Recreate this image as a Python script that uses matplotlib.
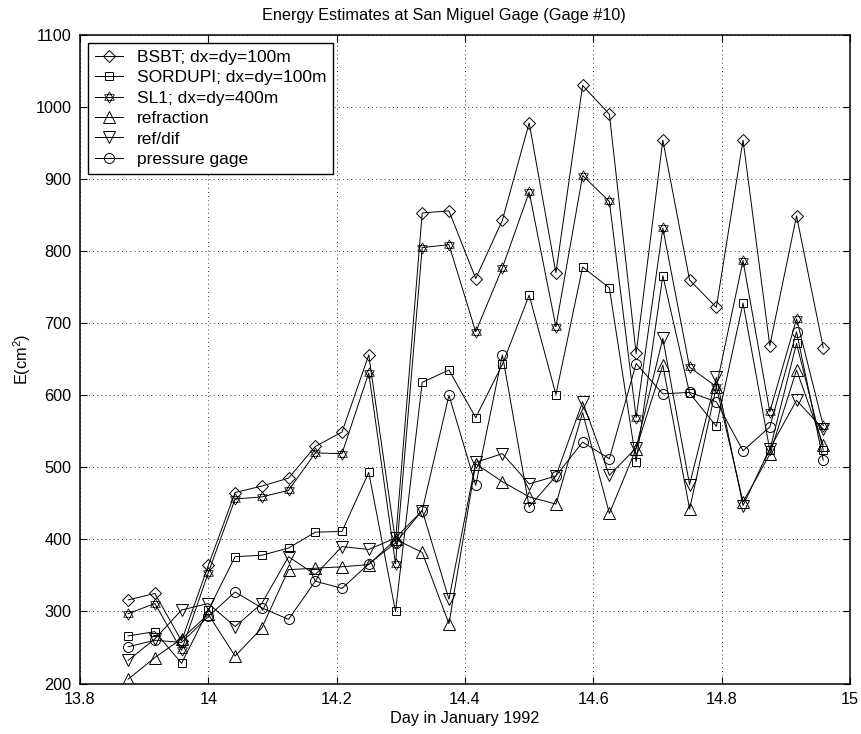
import matplotlib
matplotlib.use("Agg")
import matplotlib.pyplot as plt
from matplotlib.path import Path
from matplotlib.ticker import FixedLocator, FixedFormatter

plt.rcParams['font.family'] = ['Liberation Sans', 'DejaVu Sans']
plt.rcParams['mathtext.fontset'] = 'custom'
plt.rcParams['mathtext.rm'] = 'Liberation Sans'

# Hourly samples, day of January 1992
day = [13.8750, 13.9167, 13.9583, 14.0000, 14.0417, 14.0833, 14.1250,
       14.1667, 14.2083, 14.2500, 14.2917, 14.3333, 14.3750, 14.4167,
       14.4583, 14.5000, 14.5417, 14.5833, 14.6250, 14.6667, 14.7083,
       14.7500, 14.7917, 14.8333, 14.8750, 14.9167, 14.9583]

bsbt = [316, 325, 259, 364, 465, 474, 485, 529, 549, 656, 397, 853, 856, 762,
        843, 978, 770, 1030, 990, 658, 954, 760, 722, 954, 669, 849, 666]
sordupi = [266, 272, 228, 302, 376, 378, 388, 410, 411, 493, 300, 618, 635, 569,
           643, 739, 601, 778, 749, 508, 766, 603, 557, 728, 524, 672, 524]
sl1 = [297, 311, 246, 354, 456, 459, 468, 520, 519, 631, 366, 805, 809, 688,
       777, 882, 695, 905, 869, 569, 832, 639, 612, 787, 577, 706, 558]
refraction = [206, 236, 262, 296, 238, 277, 358, 360, 362, 365, 400, 382, 283, 505,
              480, 459, 449, 576, 436, 526, 642, 442, 612, 452, 518, 635, 531]
ref_dif = [232, 262, 302, 311, 279, 311, 376, 351, 390, 386, 402, 440, 317, 507,
           519, 477, 488, 591, 489, 527, 679, 476, 625, 447, 526, 593, 553]
pressure = [251, 260, 257, 293, 327, 305, 289, 342, 332, 366, 395, 440, 600, 475,
            656, 445, 488, 535, 512, 644, 602, 604, 591, 523, 556, 688, 510]

labels = ['BSBT; dx=dy=100m', 'SORDUPI; dx=dy=100m', 'SL1; dx=dy=400m',
          'refraction', 'ref/dif', 'pressure gage']

x_ticks = [13.8, 14.0, 14.2, 14.4, 14.6, 14.8, 15.0]
x_ticklabels = ['13.8', '14', '14.2', '14.4', '14.6', '14.8', '15']
y_ticks = [200, 300, 400, 500, 600, 700, 800, 900, 1000, 1100]
y_ticklabels = [str(v) for v in y_ticks]

# Six-pointed star made of two overlapping triangles
_c, _s = 0.8660254, 0.5
hexagram = Path(
    [(0, 1), (-_c, -_s), (_c, -_s), (0, 1),
     (0, -1), (_c, _s), (-_c, _s), (0, -1)],
    [Path.MOVETO, Path.LINETO, Path.LINETO, Path.CLOSEPOLY,
     Path.MOVETO, Path.LINETO, Path.LINETO, Path.CLOSEPOLY])

series = [
    (bsbt, 'D', 6.3, 0.7),
    (sordupi, 's', 6.0, 0.7),
    (sl1, hexagram, 8.0, 0.55),
    (refraction, '^', 8.0, 0.7),
    (ref_dif, 'v', 8.0, 0.7),
    (pressure, 'o', 7.2, 0.7),
]

FS = 11.7
fig = plt.figure(figsize=(8.61, 7.34), dpi=100)
ax = fig.add_axes([80 / 861, 1 - 683.5 / 734, 770 / 861, 648.5 / 734])

for (vals, mk, ms, mw), lab in zip(series, labels):
    ax.plot(day, vals, color='black', lw=0.7, marker=mk, ms=ms,
            mfc='none', mec='black', mew=mw, label=lab)

ax.set_xlim(13.8, 15.0)
ax.set_ylim(200, 1100)
ax.xaxis.set_major_locator(FixedLocator(x_ticks))
ax.xaxis.set_major_formatter(FixedFormatter(x_ticklabels))
ax.yaxis.set_major_locator(FixedLocator(y_ticks))
ax.yaxis.set_major_formatter(FixedFormatter(y_ticklabels))

ax.grid(True, color='black', linestyle=(0, (1, 4)), linewidth=0.6)
ax.tick_params(direction='in', length=5, width=0.8, top=True, right=True,
               labelsize=FS, pad=6, colors='black')
for sp in ax.spines.values():
    sp.set_linewidth(1.1)

ax.set_title('Energy Estimates at San Miguel Gage (Gage #10)', fontsize=FS,
             pad=11, x=0.472)
ax.set_xlabel('Day in January 1992', fontsize=FS, labelpad=3)
ax.set_ylabel(r'E(cm$^{2}$)', fontsize=FS, labelpad=2)

leg = ax.legend(loc='upper left', bbox_to_anchor=(8 / 770, 1 - 8 / 648.5),
                borderaxespad=0, fontsize=12.5, frameon=True, fancybox=False,
                edgecolor='black', framealpha=1, handlelength=1.6,
                handletextpad=0.8, labelspacing=0.3, borderpad=0.4,
                numpoints=1)
leg.get_frame().set_linewidth(1.0)

fig.savefig('out.png', dpi=100)
